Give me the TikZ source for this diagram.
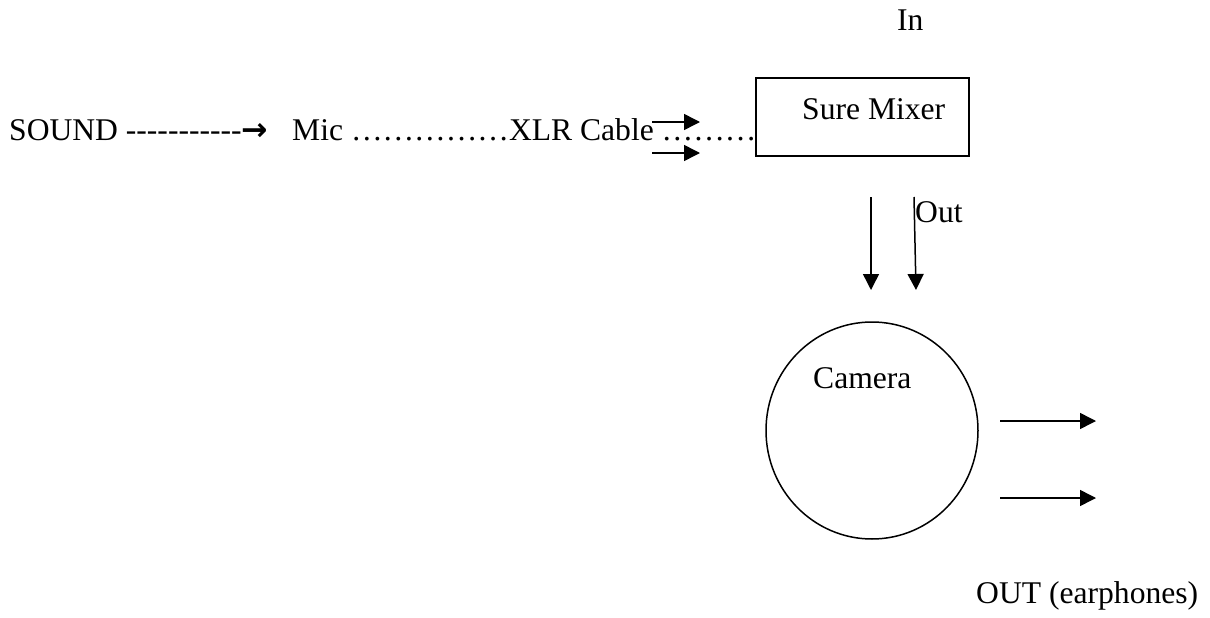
\documentclass[tikz,border=0pt]{standalone}
\usepackage{fontspec}
\setmainfont{Liberation Serif}
\newfontfamily\symfont{DejaVu Sans}
\usetikzlibrary{arrows.meta,shapes.geometric}
\newcommand\bigfont{\fontsize{31.6}{38}\selectfont}

\begin{document}
\begin{tikzpicture}[x=1pt,y=-1pt,
    every node/.style={font=\bigfont},
    txt/.style={anchor=base west,inner sep=0pt},
    wire/.style={-{Triangle[length=16pt,width=16pt]},line width=1.5pt}]
        \useasboundingbox (0,0) rectangle (1210,618);

        % signal chain text
        \node[txt] (sound) at (9,140) {SOUND -{}-{}-{}-{}-{}-{}-{}-{}-{}-{}-{\symfont\bfseries →}};
        \node[txt] (mic) at (292,140) {Mic ……………XLR Cable ………};

        % mixer
        \node[draw, line width=1.5pt, minimum width=213pt, minimum height=78pt, inner sep=0pt] (mixer) at (862.5,117) {};
        \node[txt] (mixlbl) at (802,119) {Sure Mixer};
        \node[txt] (in) at (897,31) {In};
        \node[txt] (out) at (915,222) {Out};

        % camera
        \node[ellipse, draw, line width=1.5pt, minimum width=212pt, minimum height=217pt, inner sep=0pt] (cam) at (872,430.5) {};
        \node[txt] (camlbl) at (813,388) {Camera};
        \node[txt] (ear) at (976,603) {OUT (earphones)};

        \coordinate (x1) at (652,122);
        \coordinate (x1e) at (700,122);
        \coordinate (x2) at (652,153);
        \coordinate (x2e) at (700,153);
        \coordinate (d1) at (871,197);
        \coordinate (d1e) at (871,290);
        \coordinate (d2) at (914,197);
        \coordinate (d2e) at (916,290);
        \coordinate (r1) at (1000,421);
        \coordinate (r1e) at (1096,421);
        \coordinate (r2) at (1000,498);
        \coordinate (r2e) at (1096,498);

        \draw[wire] (x1) -- (x1e);
        \draw[wire] (x2) -- (x2e);
        \draw[wire] (d1) -- (d1e);
        \draw[wire] (d2) -- (d2e);
        \draw[wire] (r1) -- (r1e);
        \draw[wire] (r2) -- (r2e);

    \end{tikzpicture}
\end{document}
